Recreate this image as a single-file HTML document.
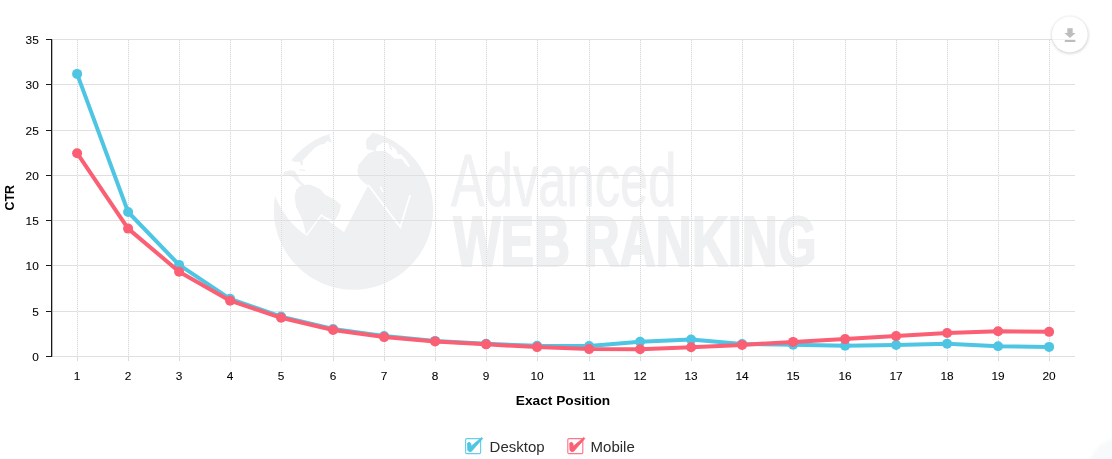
<!DOCTYPE html>
<html><head><meta charset="utf-8"><title>CTR chart</title>
<style>
html,body{margin:0;padding:0;background:#fff;}
body{width:1112px;height:459px;overflow:hidden;position:relative;font-family:"Liberation Sans",sans-serif;}
svg{position:absolute;left:0;top:0;display:block;will-change:transform}
text{font-family:"Liberation Sans",sans-serif;}
</style></head><body>
<svg width="1112" height="459" viewBox="0 0 1112 459">
<defs>
<clipPath id="globe"><circle cx="353.5" cy="210" r="79.7"/></clipPath>
<filter id="sh" x="-30%" y="-30%" width="160%" height="160%"><feGaussianBlur stdDeviation="1.6"/></filter>
</defs>
<rect width="1112" height="459" fill="#fff"/>

<g id="wm">
<g clip-path="url(#globe)" fill="#eef0f1">
<path d="M275,196 Q286,222 306.3,235.6 L321.3,215 L344.4,231.3 L368.4,185 L366.8,184.7 L363,181.7 L359.2,177.9 L357.3,171.8 L358.4,164.9 L363.7,158.8 L368.3,153.5 L374.6,151 L366.8,148.9 L366,142.8 L366.5,139 L369.8,135.9 L372,133.6 L374.4,128 L440,128 L440,295 L270,295 L270,196 Z"/>
<path d="M334,124 L280,124 L280,162 L291.6,160.6 L295.5,161.9 L299.4,161.5 L301.4,165.5 L303,165 L302.6,160.4 L309.2,153.5 L315.1,147.6 L320,144.7 L324.9,143.7 L326.9,140.7 L331.8,142.9 L329.5,135.5 Z"/>
<path d="M283.5,172 L289.6,170.2 L294.5,170.7 L297.8,175 L299.6,180.6 L304.3,184.6 L302.2,186 L297.3,182 L293.3,177.2 L288.6,175.2 L283.5,175.4 Z"/>
<path d="M299.4,169 L305.3,170 L305.3,171.3 L299.4,170.3 Z"/>
<path d="M300,186 L304.3,184.9 L310,184.5 L315,186.8 L320,189 L325,194.7 L334.7,199.5 L341,205 L339.5,212 L334.5,221 L321.3,215 L306.3,235.6 L302.5,220 L296.3,207.5 L294.6,197.5 L296,190 Z"/>
</g>
<g clip-path="url(#globe)">
<path d="M375.6,151 L377,146.2 L383,142.6 L388,143 L394,148 L400,153 L406,159.5 L410,166 L409,167.5 L405,163.5 L401.9,158.8 L394.2,158.6 L389.6,154 L385,151 Z" fill="#fff"/>
<path d="M388,143 L390,144 L392.4,149.6 L391,150.4 Z M396,149.4 L399,150 L401.4,154 L398,154.6 Z" fill="#eef0f1"/>
<g fill="none" stroke="#fff" stroke-linejoin="miter" stroke-linecap="butt">
<path d="M306.3,235.6 L321.3,215 L344.4,231.3" stroke-width="1.6"/>
<path d="M368.3,185 L400.2,227 L410.2,195" stroke-width="1.8"/>
<path d="M380.3,186.6 L382.9,192" stroke-width="1.6"/>
</g></g>
<text x="451" y="205.5" font-size="75" fill="#f0f1f2" stroke="#f0f1f2" stroke-width="0.9" textLength="225.5" lengthAdjust="spacingAndGlyphs">Advanced</text>
<text x="453.6" y="266" font-size="70.5" font-weight="bold" fill="#eef0f1" stroke="#eef0f1" stroke-width="2.2" stroke-linejoin="miter" textLength="363" lengthAdjust="spacingAndGlyphs">WEB RANKING</text>
</g>
<g id="grid" shape-rendering="crispEdges">
<line x1="52.5" y1="39.5" x2="1075.2" y2="39.5" stroke="#e0e0e0" stroke-width="1"/>
<line x1="52.5" y1="84.5" x2="1075.2" y2="84.5" stroke="#e0e0e0" stroke-width="1"/>
<line x1="52.5" y1="130.5" x2="1075.2" y2="130.5" stroke="#e0e0e0" stroke-width="1"/>
<line x1="52.5" y1="175.5" x2="1075.2" y2="175.5" stroke="#e0e0e0" stroke-width="1"/>
<line x1="52.5" y1="220.5" x2="1075.2" y2="220.5" stroke="#e0e0e0" stroke-width="1"/>
<line x1="52.5" y1="265.5" x2="1075.2" y2="265.5" stroke="#e0e0e0" stroke-width="1"/>
<line x1="52.5" y1="311.5" x2="1075.2" y2="311.5" stroke="#e0e0e0" stroke-width="1"/>
<line x1="52.5" y1="356.5" x2="1075.2" y2="356.5" stroke="#e0e0e0" stroke-width="1"/>
<line x1="77.5" y1="39.5" x2="77.5" y2="356.5" stroke="#f5f5f5" stroke-width="1"/>
<line x1="77.5" y1="39.5" x2="77.5" y2="356.5" stroke="#dadada" stroke-width="1" stroke-dasharray="1,1"/>
<line x1="77.5" y1="357.0" x2="77.5" y2="361.0" stroke="#dcdcdc" stroke-width="1"/>
<line x1="128.5" y1="39.5" x2="128.5" y2="356.5" stroke="#f5f5f5" stroke-width="1"/>
<line x1="128.5" y1="39.5" x2="128.5" y2="356.5" stroke="#dadada" stroke-width="1" stroke-dasharray="1,1"/>
<line x1="128.5" y1="357.0" x2="128.5" y2="361.0" stroke="#dcdcdc" stroke-width="1"/>
<line x1="179.5" y1="39.5" x2="179.5" y2="356.5" stroke="#f5f5f5" stroke-width="1"/>
<line x1="179.5" y1="39.5" x2="179.5" y2="356.5" stroke="#dadada" stroke-width="1" stroke-dasharray="1,1"/>
<line x1="179.5" y1="357.0" x2="179.5" y2="361.0" stroke="#dcdcdc" stroke-width="1"/>
<line x1="230.5" y1="39.5" x2="230.5" y2="356.5" stroke="#f5f5f5" stroke-width="1"/>
<line x1="230.5" y1="39.5" x2="230.5" y2="356.5" stroke="#dadada" stroke-width="1" stroke-dasharray="1,1"/>
<line x1="230.5" y1="357.0" x2="230.5" y2="361.0" stroke="#dcdcdc" stroke-width="1"/>
<line x1="281.5" y1="39.5" x2="281.5" y2="356.5" stroke="#f5f5f5" stroke-width="1"/>
<line x1="281.5" y1="39.5" x2="281.5" y2="356.5" stroke="#dadada" stroke-width="1" stroke-dasharray="1,1"/>
<line x1="281.5" y1="357.0" x2="281.5" y2="361.0" stroke="#dcdcdc" stroke-width="1"/>
<line x1="333.5" y1="39.5" x2="333.5" y2="356.5" stroke="#f5f5f5" stroke-width="1"/>
<line x1="333.5" y1="39.5" x2="333.5" y2="356.5" stroke="#dadada" stroke-width="1" stroke-dasharray="1,1"/>
<line x1="333.5" y1="357.0" x2="333.5" y2="361.0" stroke="#dcdcdc" stroke-width="1"/>
<line x1="384.5" y1="39.5" x2="384.5" y2="356.5" stroke="#f5f5f5" stroke-width="1"/>
<line x1="384.5" y1="39.5" x2="384.5" y2="356.5" stroke="#dadada" stroke-width="1" stroke-dasharray="1,1"/>
<line x1="384.5" y1="357.0" x2="384.5" y2="361.0" stroke="#dcdcdc" stroke-width="1"/>
<line x1="435.5" y1="39.5" x2="435.5" y2="356.5" stroke="#f5f5f5" stroke-width="1"/>
<line x1="435.5" y1="39.5" x2="435.5" y2="356.5" stroke="#dadada" stroke-width="1" stroke-dasharray="1,1"/>
<line x1="435.5" y1="357.0" x2="435.5" y2="361.0" stroke="#dcdcdc" stroke-width="1"/>
<line x1="486.5" y1="39.5" x2="486.5" y2="356.5" stroke="#f5f5f5" stroke-width="1"/>
<line x1="486.5" y1="39.5" x2="486.5" y2="356.5" stroke="#dadada" stroke-width="1" stroke-dasharray="1,1"/>
<line x1="486.5" y1="357.0" x2="486.5" y2="361.0" stroke="#dcdcdc" stroke-width="1"/>
<line x1="537.5" y1="39.5" x2="537.5" y2="356.5" stroke="#f5f5f5" stroke-width="1"/>
<line x1="537.5" y1="39.5" x2="537.5" y2="356.5" stroke="#dadada" stroke-width="1" stroke-dasharray="1,1"/>
<line x1="537.5" y1="357.0" x2="537.5" y2="361.0" stroke="#dcdcdc" stroke-width="1"/>
<line x1="589.5" y1="39.5" x2="589.5" y2="356.5" stroke="#f5f5f5" stroke-width="1"/>
<line x1="589.5" y1="39.5" x2="589.5" y2="356.5" stroke="#dadada" stroke-width="1" stroke-dasharray="1,1"/>
<line x1="589.5" y1="357.0" x2="589.5" y2="361.0" stroke="#dcdcdc" stroke-width="1"/>
<line x1="640.5" y1="39.5" x2="640.5" y2="356.5" stroke="#f5f5f5" stroke-width="1"/>
<line x1="640.5" y1="39.5" x2="640.5" y2="356.5" stroke="#dadada" stroke-width="1" stroke-dasharray="1,1"/>
<line x1="640.5" y1="357.0" x2="640.5" y2="361.0" stroke="#dcdcdc" stroke-width="1"/>
<line x1="691.5" y1="39.5" x2="691.5" y2="356.5" stroke="#f5f5f5" stroke-width="1"/>
<line x1="691.5" y1="39.5" x2="691.5" y2="356.5" stroke="#dadada" stroke-width="1" stroke-dasharray="1,1"/>
<line x1="691.5" y1="357.0" x2="691.5" y2="361.0" stroke="#dcdcdc" stroke-width="1"/>
<line x1="742.5" y1="39.5" x2="742.5" y2="356.5" stroke="#f5f5f5" stroke-width="1"/>
<line x1="742.5" y1="39.5" x2="742.5" y2="356.5" stroke="#dadada" stroke-width="1" stroke-dasharray="1,1"/>
<line x1="742.5" y1="357.0" x2="742.5" y2="361.0" stroke="#dcdcdc" stroke-width="1"/>
<line x1="793.5" y1="39.5" x2="793.5" y2="356.5" stroke="#f5f5f5" stroke-width="1"/>
<line x1="793.5" y1="39.5" x2="793.5" y2="356.5" stroke="#dadada" stroke-width="1" stroke-dasharray="1,1"/>
<line x1="793.5" y1="357.0" x2="793.5" y2="361.0" stroke="#dcdcdc" stroke-width="1"/>
<line x1="845.5" y1="39.5" x2="845.5" y2="356.5" stroke="#f5f5f5" stroke-width="1"/>
<line x1="845.5" y1="39.5" x2="845.5" y2="356.5" stroke="#dadada" stroke-width="1" stroke-dasharray="1,1"/>
<line x1="845.5" y1="357.0" x2="845.5" y2="361.0" stroke="#dcdcdc" stroke-width="1"/>
<line x1="896.5" y1="39.5" x2="896.5" y2="356.5" stroke="#f5f5f5" stroke-width="1"/>
<line x1="896.5" y1="39.5" x2="896.5" y2="356.5" stroke="#dadada" stroke-width="1" stroke-dasharray="1,1"/>
<line x1="896.5" y1="357.0" x2="896.5" y2="361.0" stroke="#dcdcdc" stroke-width="1"/>
<line x1="947.5" y1="39.5" x2="947.5" y2="356.5" stroke="#f5f5f5" stroke-width="1"/>
<line x1="947.5" y1="39.5" x2="947.5" y2="356.5" stroke="#dadada" stroke-width="1" stroke-dasharray="1,1"/>
<line x1="947.5" y1="357.0" x2="947.5" y2="361.0" stroke="#dcdcdc" stroke-width="1"/>
<line x1="998.5" y1="39.5" x2="998.5" y2="356.5" stroke="#f5f5f5" stroke-width="1"/>
<line x1="998.5" y1="39.5" x2="998.5" y2="356.5" stroke="#dadada" stroke-width="1" stroke-dasharray="1,1"/>
<line x1="998.5" y1="357.0" x2="998.5" y2="361.0" stroke="#dcdcdc" stroke-width="1"/>
<line x1="1049.5" y1="39.5" x2="1049.5" y2="356.5" stroke="#f5f5f5" stroke-width="1"/>
<line x1="1049.5" y1="39.5" x2="1049.5" y2="356.5" stroke="#dadada" stroke-width="1" stroke-dasharray="1,1"/>
<line x1="1049.5" y1="357.0" x2="1049.5" y2="361.0" stroke="#dcdcdc" stroke-width="1"/>
</g>
<g id="axis" shape-rendering="crispEdges" stroke="#000" stroke-width="1">
<line x1="51.5" y1="39.0" x2="51.5" y2="357.0" stroke="#1a1a1a"/><line x1="52.5" y1="39.0" x2="52.5" y2="357.0" stroke-opacity="0.28"/>
<line x1="46" y1="39.5" x2="52" y2="39.5" stroke="#1a1a1a"/>
<line x1="46" y1="84.5" x2="52" y2="84.5" stroke="#1a1a1a"/>
<line x1="46" y1="130.5" x2="52" y2="130.5" stroke="#1a1a1a"/>
<line x1="46" y1="175.5" x2="52" y2="175.5" stroke="#1a1a1a"/>
<line x1="46" y1="220.5" x2="52" y2="220.5" stroke="#1a1a1a"/>
<line x1="46" y1="265.5" x2="52" y2="265.5" stroke="#1a1a1a"/>
<line x1="46" y1="311.5" x2="52" y2="311.5" stroke="#1a1a1a"/>
<line x1="46" y1="356.5" x2="52" y2="356.5" stroke="#1a1a1a"/>
</g>
<g font-size="11.3" fill="#000" stroke="#000" stroke-width="0.08">
<text x="25.6" y="44.1" textLength="13.2" lengthAdjust="spacingAndGlyphs">35</text>
<text x="25.6" y="89.1" textLength="13.2" lengthAdjust="spacingAndGlyphs">30</text>
<text x="25.6" y="135.1" textLength="13.2" lengthAdjust="spacingAndGlyphs">25</text>
<text x="25.6" y="180.1" textLength="13.2" lengthAdjust="spacingAndGlyphs">20</text>
<text x="25.6" y="225.1" textLength="13.2" lengthAdjust="spacingAndGlyphs">15</text>
<text x="25.6" y="270.1" textLength="13.2" lengthAdjust="spacingAndGlyphs">10</text>
<text x="32.2" y="316.1" textLength="6.6" lengthAdjust="spacingAndGlyphs">5</text>
<text x="32.2" y="361.1" textLength="6.6" lengthAdjust="spacingAndGlyphs">0</text>
<text x="73.8" y="379.6" textLength="6.6" lengthAdjust="spacingAndGlyphs">1</text>
<text x="124.8" y="379.6" textLength="6.6" lengthAdjust="spacingAndGlyphs">2</text>
<text x="175.8" y="379.6" textLength="6.6" lengthAdjust="spacingAndGlyphs">3</text>
<text x="226.8" y="379.6" textLength="6.6" lengthAdjust="spacingAndGlyphs">4</text>
<text x="277.8" y="379.6" textLength="6.6" lengthAdjust="spacingAndGlyphs">5</text>
<text x="329.8" y="379.6" textLength="6.6" lengthAdjust="spacingAndGlyphs">6</text>
<text x="380.8" y="379.6" textLength="6.6" lengthAdjust="spacingAndGlyphs">7</text>
<text x="431.8" y="379.6" textLength="6.6" lengthAdjust="spacingAndGlyphs">8</text>
<text x="482.8" y="379.6" textLength="6.6" lengthAdjust="spacingAndGlyphs">9</text>
<text x="530.5" y="379.6" textLength="13.2" lengthAdjust="spacingAndGlyphs">10</text>
<text x="582.5" y="379.6" textLength="13.2" lengthAdjust="spacingAndGlyphs">11</text>
<text x="633.5" y="379.6" textLength="13.2" lengthAdjust="spacingAndGlyphs">12</text>
<text x="684.5" y="379.6" textLength="13.2" lengthAdjust="spacingAndGlyphs">13</text>
<text x="735.5" y="379.6" textLength="13.2" lengthAdjust="spacingAndGlyphs">14</text>
<text x="786.5" y="379.6" textLength="13.2" lengthAdjust="spacingAndGlyphs">15</text>
<text x="838.5" y="379.6" textLength="13.2" lengthAdjust="spacingAndGlyphs">16</text>
<text x="889.5" y="379.6" textLength="13.2" lengthAdjust="spacingAndGlyphs">17</text>
<text x="940.5" y="379.6" textLength="13.2" lengthAdjust="spacingAndGlyphs">18</text>
<text x="991.5" y="379.6" textLength="13.2" lengthAdjust="spacingAndGlyphs">19</text>
<text x="1042.5" y="379.6" textLength="13.2" lengthAdjust="spacingAndGlyphs">20</text>
</g>
<text x="515.8" y="404.6" font-size="12.4" font-weight="bold" fill="#000" textLength="94.4" lengthAdjust="spacingAndGlyphs">Exact Position</text>
<text transform="translate(14.4,210.5) rotate(-90)" font-size="12.4" font-weight="bold" fill="#000" textLength="25.4" lengthAdjust="spacingAndGlyphs">CTR</text>
<polyline points="77.1,73.9 128.1,212.0 179.1,264.9 230.1,298.8 281.1,316.6 333.1,329.0 384.1,336.1 435.1,340.9 486.1,343.8 537.1,345.8 589.1,346.1 640.1,341.8 691.1,339.6 742.1,344.0 793.1,344.8 845.1,345.8 896.1,345.0 947.1,343.8 998.1,346.3 1049.1,346.9" fill="none" stroke="#4ec5e3" stroke-width="4" stroke-linejoin="round" stroke-linecap="round"/>
<circle cx="77.1" cy="73.9" r="5" fill="#4ec5e3"/>
<circle cx="128.1" cy="212.0" r="5" fill="#4ec5e3"/>
<circle cx="179.1" cy="264.9" r="5" fill="#4ec5e3"/>
<circle cx="230.1" cy="298.8" r="5" fill="#4ec5e3"/>
<circle cx="281.1" cy="316.6" r="5" fill="#4ec5e3"/>
<circle cx="333.1" cy="329.0" r="5" fill="#4ec5e3"/>
<circle cx="384.1" cy="336.1" r="5" fill="#4ec5e3"/>
<circle cx="435.1" cy="340.9" r="5" fill="#4ec5e3"/>
<circle cx="486.1" cy="343.8" r="5" fill="#4ec5e3"/>
<circle cx="537.1" cy="345.8" r="5" fill="#4ec5e3"/>
<circle cx="589.1" cy="346.1" r="5" fill="#4ec5e3"/>
<circle cx="640.1" cy="341.8" r="5" fill="#4ec5e3"/>
<circle cx="691.1" cy="339.6" r="5" fill="#4ec5e3"/>
<circle cx="742.1" cy="344.0" r="5" fill="#4ec5e3"/>
<circle cx="793.1" cy="344.8" r="5" fill="#4ec5e3"/>
<circle cx="845.1" cy="345.8" r="5" fill="#4ec5e3"/>
<circle cx="896.1" cy="345.0" r="5" fill="#4ec5e3"/>
<circle cx="947.1" cy="343.8" r="5" fill="#4ec5e3"/>
<circle cx="998.1" cy="346.3" r="5" fill="#4ec5e3"/>
<circle cx="1049.1" cy="346.9" r="5" fill="#4ec5e3"/>
<polyline points="77.1,153.2 128.1,228.6 179.1,271.7 230.1,300.7 281.1,317.8 333.1,330.05 384.1,337.1 435.1,341.4 486.1,344.35 537.1,347.1 589.1,349.1 640.1,349.3 691.1,347.3 742.1,344.9 793.1,341.9 845.1,339.1 896.1,336.1 947.1,333.0 998.1,331.2 1049.1,331.85" fill="none" stroke="#fa5f74" stroke-width="4" stroke-linejoin="round" stroke-linecap="round"/>
<circle cx="77.1" cy="153.2" r="5" fill="#fa5f74"/>
<circle cx="128.1" cy="228.6" r="5" fill="#fa5f74"/>
<circle cx="179.1" cy="271.7" r="5" fill="#fa5f74"/>
<circle cx="230.1" cy="300.7" r="5" fill="#fa5f74"/>
<circle cx="281.1" cy="317.8" r="5" fill="#fa5f74"/>
<circle cx="333.1" cy="330.05" r="5" fill="#fa5f74"/>
<circle cx="384.1" cy="337.1" r="5" fill="#fa5f74"/>
<circle cx="435.1" cy="341.4" r="5" fill="#fa5f74"/>
<circle cx="486.1" cy="344.35" r="5" fill="#fa5f74"/>
<circle cx="537.1" cy="347.1" r="5" fill="#fa5f74"/>
<circle cx="589.1" cy="349.1" r="5" fill="#fa5f74"/>
<circle cx="640.1" cy="349.3" r="5" fill="#fa5f74"/>
<circle cx="691.1" cy="347.3" r="5" fill="#fa5f74"/>
<circle cx="742.1" cy="344.9" r="5" fill="#fa5f74"/>
<circle cx="793.1" cy="341.9" r="5" fill="#fa5f74"/>
<circle cx="845.1" cy="339.1" r="5" fill="#fa5f74"/>
<circle cx="896.1" cy="336.1" r="5" fill="#fa5f74"/>
<circle cx="947.1" cy="333.0" r="5" fill="#fa5f74"/>
<circle cx="998.1" cy="331.2" r="5" fill="#fa5f74"/>
<circle cx="1049.1" cy="331.85" r="5" fill="#fa5f74"/>
<circle cx="1070" cy="35.3" r="18.2" fill="#000" fill-opacity="0.20" filter="url(#sh)"/>
<circle cx="1069.8" cy="34.5" r="17.9" fill="#fff"/>
<line x1="1052" y1="39.5" x2="1075" y2="39.5" stroke="#f1f1f1" stroke-width="1" shape-rendering="crispEdges"/>
<path d="M1067.3,28.3 h5.4 v4.6 h2.9 l-5.6,5.2 l-5.6,-5.2 h2.9 z" fill="#bdbdbd"/>
<rect x="1064.8" y="40" width="10.6" height="2" fill="#bdbdbd"/>
<circle cx="1121" cy="471" r="33" fill="#f8f9fa" filter="url(#sh)"/>
<rect x="465.6" y="438.6" width="15" height="15" rx="1.2" fill="#fff" stroke="#4ec5e3" stroke-width="1.15" stroke-opacity="0.85"/>
<path d="M467.5,443.2 L468.9,442.2 L470.7,443.2 L471.1,446.2 L481.7,437.5 L482.7,438.5 L471.5,451.3 L469.5,451.7 L467.8,450.4 Z" fill="#4ec5e3" stroke="#4ec5e3" stroke-width="0.8" stroke-linejoin="round"/>
<rect x="567.8000000000001" y="438.6" width="15" height="15" rx="1.2" fill="#fff" stroke="#fa5f74" stroke-width="1.15" stroke-opacity="0.85"/>
<path d="M569.7,443.2 L571.1,442.2 L572.9,443.2 L573.3,446.2 L583.9,437.5 L584.9,438.5 L573.7,451.3 L571.7,451.7 L570.0,450.4 Z" fill="#fa5f74" stroke="#fa5f74" stroke-width="0.8" stroke-linejoin="round"/>
<text x="489.6" y="451.7" font-size="15" fill="#2b2b2b">Desktop</text>
<text x="590.6" y="451.7" font-size="15" fill="#2b2b2b">Mobile</text>
</svg></body></html>
